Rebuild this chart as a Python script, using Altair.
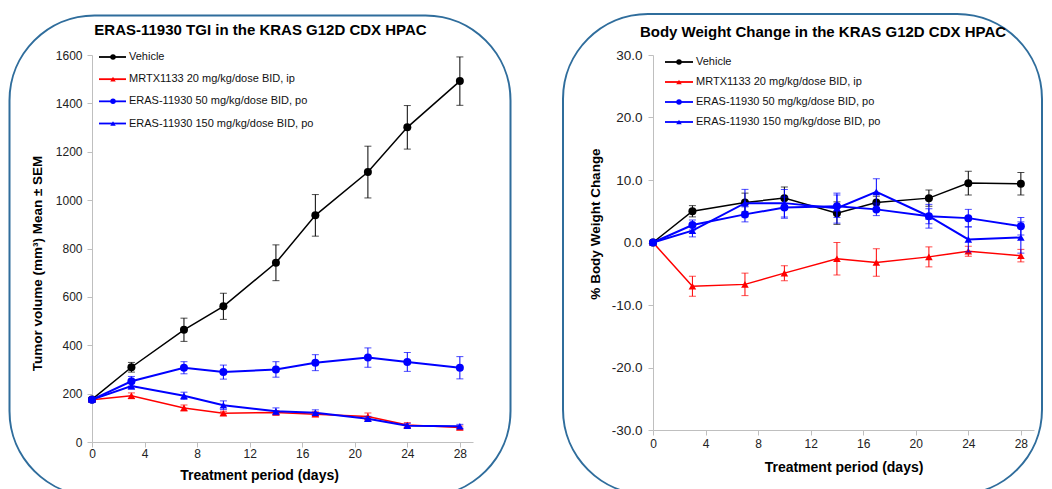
import altair as alt
import pandas as pd

FONT = "Liberation Sans"

days = [0, 3, 7, 10, 14, 17, 21, 24, 28]
series = [
    "Vehicle",
    "MRTX1133 20 mg/kg/dose BID, ip",
    "ERAS-11930 50 mg/kg/dose BID, po",
    "ERAS-11930 150 mg/kg/dose BID, po",
]
colors = ["#000000", "#ff0000", "#0000ff", "#0000ff"]
shapes = ["circle", "triangle-up", "circle", "triangle-up"]
line_widths = [1.5, 1.5, 2, 2]

# Tumor volume (mm3), mean and SEM
tv_vehicle = [176, 309, 464, 561, 741, 937, 1116, 1301, 1492]
tv_vehicle_sem = [8, 20, 48, 54, 74, 86, 107, 90, 100]
tv_mrtx = [175, 191, 141, 119, 122, 115, 105, 70, 60]
tv_mrtx_sem = [8, 12, 12, 8, 8, 10, 15, 10, 6]
tv_eras50 = [175, 251, 307, 289, 300, 328, 349, 331, 307]
tv_eras50_sem = [8, 20, 25, 29, 32, 33, 40, 39, 46]
tv_eras150 = [175, 231, 191, 152, 127, 121, 96, 67, 65]
tv_eras150_sem = [8, 12, 15, 18, 14, 12, 10, 10, 8]

# Body weight change (%), mean and SEM
bw_vehicle = [0, 5.0, 6.4, 7.1, 4.7, 6.4, 7.1, 9.5, 9.4]
bw_vehicle_sem = [0, 0.9, 1.5, 1.8, 1.8, 1.0, 1.3, 1.9, 1.8]
bw_mrtx = [0, -7.0, -6.7, -4.9, -2.6, -3.2, -2.3, -1.4, -2.1]
bw_mrtx_sem = [0, 1.6, 1.8, 1.2, 2.6, 2.2, 1.6, 0.8, 1.0]
bw_eras50 = [0, 2.8, 4.5, 5.6, 5.8, 5.3, 4.2, 3.9, 2.6]
bw_eras50_sem = [0, 0.8, 1.2, 1.7, 1.8, 1.0, 1.2, 1.4, 1.4]
bw_eras150 = [0, 1.9, 6.3, 6.3, 5.5, 8.1, 4.2, 0.5, 0.8]
bw_eras150_sem = [0, 1.0, 2.2, 2.2, 2.4, 2.1, 1.9, 2.0, 2.5]

x_ticks = [0, 4, 8, 12, 16, 20, 24, 28]
tv_ticks = [0, 200, 400, 600, 800, 1000, 1200, 1400, 1600]
bw_ticks = [-30, -20, -10, 0, 10, 20, 30]

title_left = "ERAS-11930 TGI in the KRAS G12D CDX HPAC"
title_right = "Body Weight Change in the KRAS G12D CDX HPAC"
ytitle_left = "Tumor volume (mm³) Mean ± SEM"
ytitle_right = "% Body Weight Change"
xtitle = "Treatment period (days)"

FRAME_COLOR = "#2f6d9c"
AXIS_COLOR = "#bfbfbf"
LABEL_COLOR = "#222222"


def series_frame(means, sems, name):
    return pd.DataFrame({
        "day": days,
        "value": means,
        "lo": [m - s for m, s in zip(means, sems)],
        "hi": [m + s for m, s in zip(means, sems)],
        "series": name,
    })


def text_layer(txt, x, y, size, angle=0, weight="bold"):
    kw = dict(font=FONT, fontSize=size, fontWeight=weight, color="#000000",
              align="center", baseline="middle")
    if angle:
        kw["angle"] = angle
    return alt.Chart(alt.Data(values=[{"t": txt}])).mark_text(**kw).encode(
        text="t:N", x=alt.value(x), y=alt.value(y)
    )


def panel(mean_lists, sem_lists, ydomain, yticks, ylabel_expr, w, h, ylab_size, ylab_pad,
          xlab_pad, frame, title_pos, ytitle_pos, xtitle_pos, titles,
          legend_x, legend_y):
    xscale = alt.Scale(domain=[0, 29], nice=False, zero=False)
    yscale = alt.Scale(domain=ydomain, nice=False, zero=False)
    xaxis = alt.Axis(values=x_ticks, grid=False, domainColor=AXIS_COLOR, tickColor=AXIS_COLOR,
                     tickSize=5, labelFontSize=12, labelFont=FONT, labelColor=LABEL_COLOR,
                     labelPadding=xlab_pad, title=None, labelFlush=False)
    yaxis = alt.Axis(values=yticks, labelExpr=ylabel_expr, grid=False, domainColor=AXIS_COLOR,
                     tickColor=AXIS_COLOR, tickSize=5, labelFontSize=ylab_size, labelFont=FONT,
                     labelColor=LABEL_COLOR, labelPadding=ylab_pad, title=None)

    def X(f):
        return alt.X(f, scale=xscale, axis=xaxis)

    def Y(f):
        return alt.Y(f, scale=yscale, axis=yaxis)

    data_layers = []
    for i, name in enumerate(series):
        df = series_frame(mean_lists[i], sem_lists[i], name)
        base = alt.Chart(df)
        col = colors[i]
        rule = base.mark_rule(color=col, strokeWidth=1).encode(
            x=X("day:Q"), y=Y("lo:Q"), y2="hi:Q")
        cap_lo = base.mark_tick(color=col, orient="horizontal", size=7, thickness=1).encode(
            x=X("day:Q"), y=Y("lo:Q"))
        cap_hi = base.mark_tick(color=col, orient="horizontal", size=7, thickness=1).encode(
            x=X("day:Q"), y=Y("hi:Q"))
        line = base.mark_line(color=col, strokeWidth=line_widths[i]).encode(
            x=X("day:Q"), y=Y("value:Q"))
        pts = base.mark_point(color=col, filled=True, opacity=1, shape=shapes[i],
                              size=64 if shapes[i] == "circle" else 58).encode(
            x=X("day:Q"), y=Y("value:Q"))
        data_layers += [line, rule, cap_lo, cap_hi, pts]
    data_chart = alt.layer(*data_layers)

    leg_df = pd.DataFrame({"series": series, "idx": list(range(len(series)))})
    ly = alt.Y("idx:Q", scale=alt.Scale(domain=[0, 3], range=legend_y, nice=False, zero=False), axis=None)
    lcol = alt.Color("series:N", scale=alt.Scale(domain=series, range=colors), legend=None)
    lbase = alt.Chart(leg_df)
    leg_rule = lbase.mark_rule(strokeWidth=1.8).encode(
        x=alt.value(legend_x[0]), x2=alt.value(legend_x[1]), y=ly, color=lcol)
    leg_pt = lbase.mark_point(filled=True, opacity=1, size=30).encode(
        x=alt.value(legend_x[2]), y=ly, color=lcol,
        shape=alt.Shape("series:N", scale=alt.Scale(domain=series, range=shapes), legend=None))
    leg_txt = lbase.mark_text(align="left", baseline="middle", font=FONT, fontSize=11,
                              color="#111111").encode(x=alt.value(legend_x[3]), y=ly, text="series:N")
    legend_chart = alt.layer(leg_rule, leg_pt, leg_txt)

    frame_rect = alt.Chart(alt.Data(values=[{"k": 1}])).mark_rect(
        filled=False, stroke=FRAME_COLOR, strokeWidth=2, cornerRadius=85).encode(
        x=alt.value(frame[0]), x2=alt.value(frame[1]), y=alt.value(frame[2]), y2=alt.value(frame[3]))

    t1 = text_layer(titles[0], title_pos[0], title_pos[1], 15)
    t2 = text_layer(titles[1], ytitle_pos[0], ytitle_pos[1], 13.5, angle=270)
    t3 = text_layer(xtitle, xtitle_pos[0], xtitle_pos[1], 14)

    return alt.layer(data_chart, legend_chart, frame_rect, t1, t2, t3).resolve_scale(
        y="independent", color="independent", shape="independent"
    ).properties(width=w, height=h)


left = panel(
    [tv_vehicle, tv_mrtx, tv_eras50, tv_eras150],
    [tv_vehicle_sem, tv_mrtx_sem, tv_eras50_sem, tv_eras150_sem],
    [0, 1600], tv_ticks, "format(datum.value, 'd')", 381, 387, 12, 5, 1,
    frame=[-82.5, 418.5, -39.5, 441],
    title_pos=[168.5, -25.5], ytitle_pos=[-54, 208.5], xtitle_pos=[167.5, 420.5],
    titles=[title_left, ytitle_left],
    legend_x=[7, 34, 21, 37], legend_y=[2, 68.5],
)

right = panel(
    [bw_vehicle, bw_mrtx, bw_eras50, bw_eras150],
    [bw_vehicle_sem, bw_mrtx_sem, bw_eras50_sem, bw_eras150_sem],
    [-30, 30], bw_ticks, "replace(format(datum.value, '.1f'), '\u2212', '-')", 381, 375, 13.5, 6, 3.5,
    frame=[-90, 389, -41, 439.5],
    title_pos=[170, -23.3], ytitle_pos=[-57, 169], xtitle_pos=[191, 412.5],
    titles=[title_right, ytitle_right],
    legend_x=[12, 40, 26, 43], legend_y=[7, 67],
)

chart = alt.hconcat(left, right, spacing=50).properties(
    padding={"left": 0, "top": 5, "right": 0, "bottom": 0}
).configure_view(strokeWidth=0).configure_axis(labelFont=FONT, labelFontSize=12)

chart.save("out.html", embed_options={"renderer": "svg", "actions": False})
